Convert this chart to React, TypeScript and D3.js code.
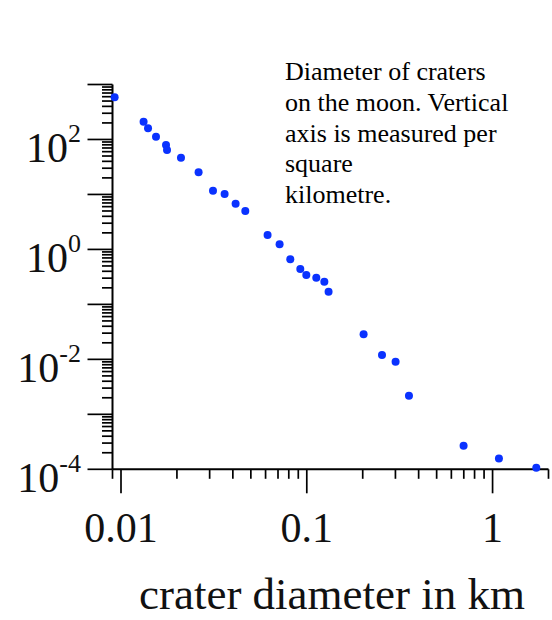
import React from "react";
import * as d3 from "d3";

const diameterKm = [
  0.00924, 0.01323, 0.01398, 0.01543, 0.01747, 0.01769, 0.02103, 0.02616, 0.03127,
  0.03611, 0.04139, 0.04667, 0.06152, 0.07139, 0.0815, 0.09226, 0.0994, 0.1125,
  0.1243, 0.131, 0.2022, 0.254, 0.3006, 0.3548, 0.6982, 1.082, 1.719,
];
const craterDensity = [
  585, 210, 160, 112, 79.3, 64.3, 46.6, 25.3, 11.7, 10.2, 6.79, 5.0, 1.83, 1.24, 0.661,
  0.44, 0.342, 0.306, 0.259, 0.17, 0.0286, 0.012, 0.00906, 0.00218, 0.000268, 0.000158,
  0.000107,
];
const xTickLabels = ["0.01", "0.1", "1"];
const xTickValues = [0.01, 0.1, 1];
const yTickExponents = ["-4", "-2", "0", "2"];
const yTickValues = [1e-4, 1e-2, 1, 1e2];
const noteLines = [
  "Diameter of craters",
  "on the moon. Vertical",
  "axis is measured per",
  "square",
  "kilometre.",
];
const xTitle = "crater diameter in km";

const W = 552;
const H = 620;
const FONT = "'Liberation Serif', 'Times New Roman', serif";

export default function App() {
  const x = d3.scaleLog().domain([0.009, 2]).range([112.5, 548.5]);
  const y = d3.scaleLog().domain([1e-4, 1e3]).range([469.3, 84.5]);
  const isMajor = (v: number) => Math.abs(Math.log10(v) - Math.round(Math.log10(v))) < 1e-9;
  const xTicks = x.ticks();
  const yTicks = y.ticks();
  const axisY = y.range()[0];
  const axisX = x.range()[0];

  return (
    <svg
      width={W}
      height={H}
      style={{ position: "absolute", left: 0, top: 0, background: "#fff" }}
      fontFamily={FONT}
    >
      <rect x={0} y={0} width={W} height={H} fill="#fff" />
      {/* y axis */}
      <line x1={axisX} x2={axisX} y1={y.range()[1]} y2={axisY} stroke="#000" strokeWidth={2} />
      {yTicks.map((t, i) => (
        <line
          key={"yt" + i}
          x1={axisX - (isMajor(t) ? 25 : 10.5)}
          x2={axisX}
          y1={y(t)}
          y2={y(t)}
          stroke="#000"
          strokeWidth={1.7}
        />
      ))}
      {/* x axis */}
      <line x1={axisX} x2={x.range()[1]} y1={axisY} y2={axisY} stroke="#000" strokeWidth={2} />
      {xTicks.map((t, i) => (
        <line
          key={"xt" + i}
          x1={x(t)}
          x2={x(t)}
          y1={axisY}
          y2={axisY + (isMajor(t) ? 24 : 9.5)}
          stroke="#000"
          strokeWidth={1.7}
        />
      ))}
      {/* y tick labels */}
      {yTickValues.map((v, i) => (
        <text key={"yl" + i} x={81} y={y(v) + 23} textAnchor="end" fontSize={42} fill="#111">
          10
          <tspan dy={-20} fontSize={26}>
            {yTickExponents[i]}
          </tspan>
        </text>
      ))}
      {/* x tick labels */}
      {xTickValues.map((v, i) => (
        <text key={"xl" + i} x={x(v)} y={542} textAnchor="middle" fontSize={42} fill="#111">
          {xTickLabels[i]}
        </text>
      ))}
      <text x={332} y={609} textAnchor="middle" fontSize={45} fill="#111">
        {xTitle}
      </text>
      {/* note */}
      {noteLines.map((l, i) => (
        <text key={"n" + i} x={285} y={80 + i * 30.8} fontSize={26} fill="#000">
          {l}
        </text>
      ))}
      {/* points */}
      {diameterKm.map((d, i) => (
        <circle key={"p" + i} cx={x(d)} cy={y(craterDensity[i])} r={4} fill="#0a32ff" />
      ))}
    </svg>
  );
}
